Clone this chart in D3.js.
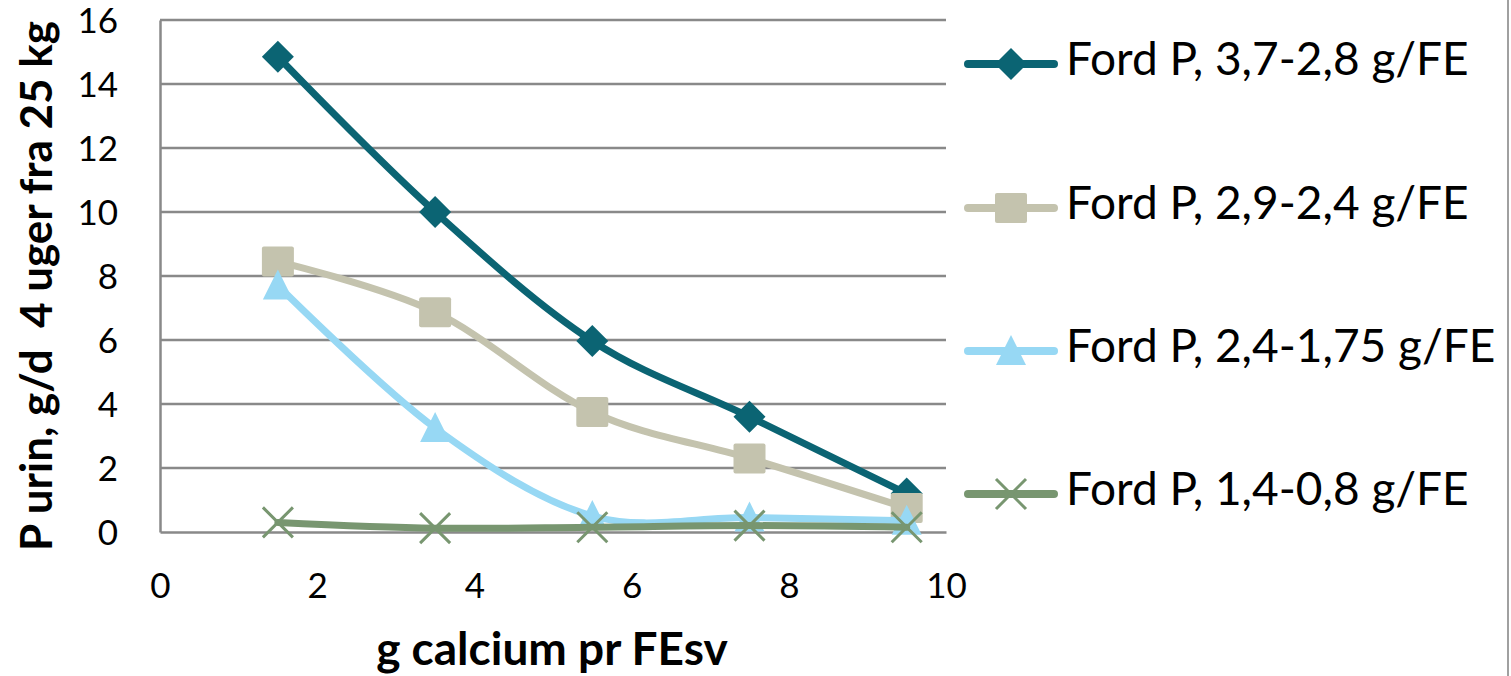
<!DOCTYPE html>
<html>
<head>
<meta charset="utf-8">
<script src="https://cdn.jsdelivr.net/npm/d3@7"></script>
<style>
  html, body { margin: 0; padding: 0; background: #fff; }
  svg { display: block; font-family: Lato, "Open Sans", sans-serif; }
</style>
</head>
<body>
<svg id="chart" width="1511" height="676"></svg>
<script>
// data
const calcium = [1.5, 3.5, 5.5, 7.5, 9.5];
const seriesNames = [
  'Ford P, 3,7-2,8 g/FE',
  'Ford P, 2,9-2,4 g/FE',
  'Ford P, 2,4-1,75 g/FE',
  'Ford P, 1,4-0,8 g/FE'
];
const p37 = [14.85, 10.0, 5.97, 3.6, 1.2];
const p29 = [8.45, 6.87, 3.75, 2.3, 0.75];
const p24 = [7.7, 3.25, 0.5, 0.45, 0.35];
const p14 = [0.3, 0.12, 0.15, 0.2, 0.15];
const xTicks = [0, 2, 4, 6, 8, 10];
const yTicks = [0, 2, 4, 6, 8, 10, 12, 14, 16];

const colors = ['#0b6473', '#c4c3ae', '#97d8f4', '#789670'];
const markers = ['diamond', 'square', 'triangle', 'cross'];
const allSeries = [p37, p29, p24, p14];

const svg = d3.select('#chart');

const x = d3.scaleLinear().domain([0, 10]).range([160, 946]);
const y = d3.scaleLinear().domain([0, 16]).range([532, 20]);

// gridlines
svg.append('g')
  .selectAll('line')
  .data(yTicks.filter(d => d > 0))
  .enter()
  .append('line')
  .attr('x1', x(0))
  .attr('x2', x(10))
  .attr('y1', d => y(d))
  .attr('y2', d => y(d))
  .attr('stroke', '#898989')
  .attr('stroke-width', 2.5);

// axes
const yAxis = svg.append('g')
  .attr('transform', `translate(${x(0)},0)`)
  .call(d3.axisLeft(y).tickValues(yTicks).tickSize(0).tickPadding(42).tickFormat(d3.format('d')));
const xAxis = svg.append('g')
  .attr('transform', `translate(0,${y(0)})`)
  .call(d3.axisBottom(x).tickValues(xTicks).tickSize(0).tickPadding(54).tickFormat(d3.format('d')));

[yAxis, xAxis].forEach(a => {
  a.select('.domain').attr('stroke', '#898989').attr('stroke-width', 2.5);
  a.selectAll('text')
    .attr('font-family', 'Lato, "Open Sans", sans-serif')
    .attr('font-size', 35)
    .attr('fill', '#000')
    .attr('dy', '0.35em');
});

// axis titles
svg.append('text')
  .attr('transform', 'translate(52,286) rotate(-90)')
  .attr('text-anchor', 'middle')
  .attr('font-size', 44)
  .attr('font-weight', 'bold')
  .style('white-space', 'pre')
  .text('P urin, g/d  4 uger fra 25 kg');

svg.append('text')
  .attr('x', 552)
  .attr('y', 665)
  .attr('text-anchor', 'middle')
  .attr('font-size', 46)
  .attr('font-weight', 'bold')
  .text('g calcium pr FEsv');

// right border of chart area
svg.append('line')
  .attr('x1', 1508).attr('x2', 1508)
  .attr('y1', 0).attr('y2', 676)
  .attr('stroke', '#a0a0a0')
  .attr('stroke-width', 2);

const line = d3.line()
  .x(d => x(d[0]))
  .y(d => y(d[1]))
  .curve(d3.curveCatmullRom.alpha(0));

function drawMarker(sel, kind, color) {
  if (kind === 'diamond') {
    sel.append('path').attr('d', 'M0,-16L16,0L0,16L-16,0Z').attr('fill', color);
  } else if (kind === 'square') {
    sel.append('rect').attr('x', -16).attr('y', -15).attr('width', 32).attr('height', 30)
      .attr('rx', 2).attr('fill', color);
  } else if (kind === 'triangle') {
    sel.append('path').attr('d', 'M0,-16L15,14L-15,14Z').attr('fill', color);
  } else {
    sel.append('path').attr('d', 'M-15,-15L15,15M-15,15L15,-15')
      .attr('stroke', color).attr('stroke-width', 3).attr('fill', 'none');
  }
}

// series, drawn back to front like the original
allSeries.forEach((vals, i) => {
  const pts = calcium.map((c, j) => [c, vals[j]]);
  const g = svg.append('g');
  g.append('path')
    .attr('d', line(pts))
    .attr('fill', 'none')
    .attr('stroke', colors[i])
    .attr('stroke-width', 7)
    .attr('stroke-linecap', 'round')
    .attr('stroke-linejoin', 'round');
  g.selectAll('g.m')
    .data(pts)
    .enter()
    .append('g')
    .attr('class', 'm')
    .attr('transform', d => `translate(${x(d[0])},${y(d[1])})`)
    .each(function() { drawMarker(d3.select(this), markers[i], colors[i]); });
});

// legend
const legendY = [64, 208, 351, 494];
const legend = svg.append('g');
seriesNames.forEach((name, i) => {
  const row = legend.append('g').attr('transform', `translate(0,${legendY[i]})`);
  row.append('line')
    .attr('x1', 968).attr('x2', 1054)
    .attr('stroke', colors[i])
    .attr('stroke-width', 8)
    .attr('stroke-linecap', 'round');
  const m = row.append('g').attr('transform', 'translate(1011,0)');
  drawMarker(m, markers[i], colors[i]);
  row.append('text')
    .attr('x', 1066)
    .attr('y', 11)
    .attr('font-size', 46)
    .attr('fill', '#000')
    .text(name);
});
</script>
</body>
</html>
